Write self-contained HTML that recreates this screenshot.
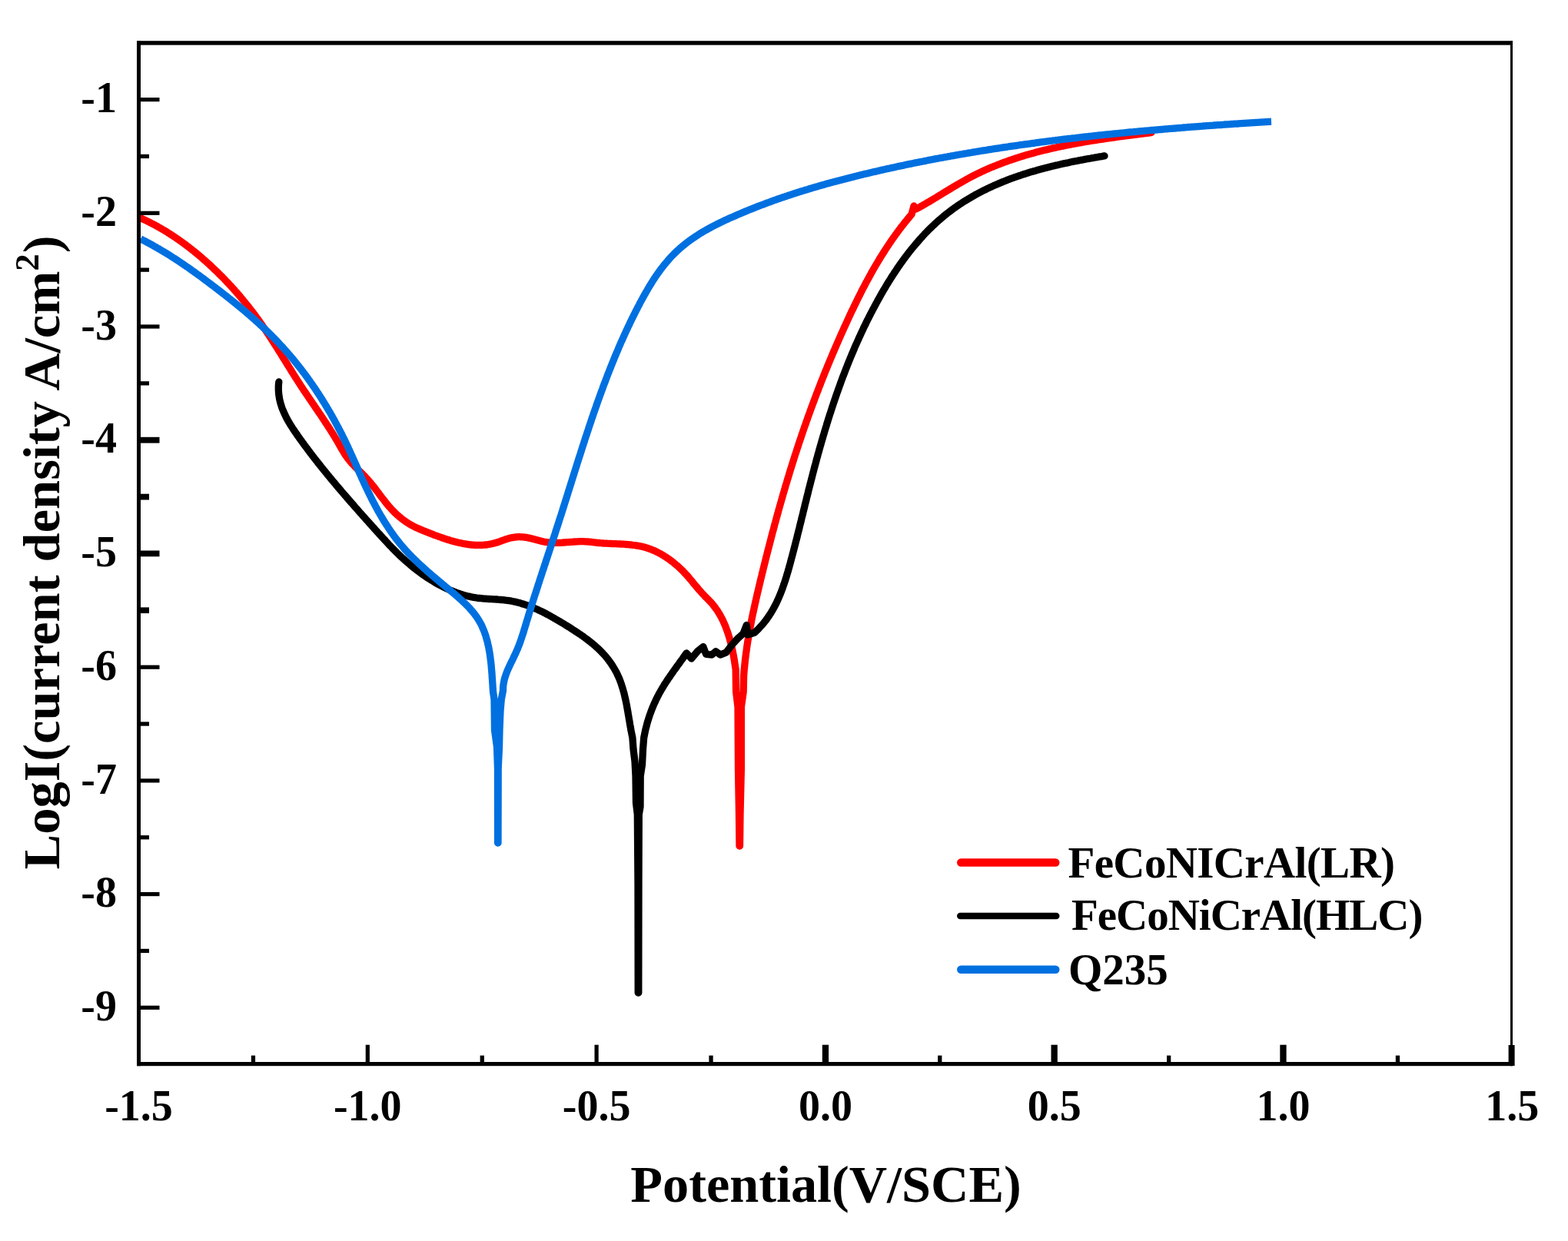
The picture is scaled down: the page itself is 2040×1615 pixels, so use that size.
<!DOCTYPE html>
<html><head><meta charset="utf-8"><title>Polarization curves</title>
<style>
html,body{margin:0;padding:0;background:#fff;}
body{width:2040px;height:1615px;overflow:hidden;}
svg{display:block;}
</style></head>
<body>
<svg width="2040" height="1615" viewBox="0 0 2040 1615">
<rect x="0" y="0" width="2040" height="1615" fill="#fff"/>
<path d="M183.0,283.8L184.8,284.6 186.6,285.5 188.5,286.3 190.3,287.2 192.1,288.1 193.9,288.9 195.6,289.8 197.4,290.8 199.2,291.7 201.0,292.6 202.7,293.6 204.5,294.5 206.2,295.5 208.0,296.5 209.7,297.5 211.4,298.5 213.2,299.5 214.9,300.6 216.6,301.6 218.3,302.7 220.0,303.7 221.7,304.8 223.3,305.9 225.0,307.0 226.7,308.1 228.4,309.2 230.0,310.4 231.7,311.5 233.3,312.6 234.9,313.8 236.6,315.0 238.2,316.1 239.8,317.3 241.4,318.5 243.0,319.7 244.6,320.9 246.2,322.2 247.8,323.4 249.3,324.6 250.9,325.9 252.5,327.1 254.0,328.4 255.6,329.7 257.1,330.9 258.7,332.2 260.2,333.5 261.7,334.8 263.2,336.1 264.7,337.4 266.2,338.8 267.7,340.1 269.2,341.4 270.7,342.8 272.2,344.1 273.7,345.5 275.1,346.8 276.6,348.2 278.0,349.6 279.5,351.0 280.9,352.3 282.4,353.7 283.8,355.1 285.2,356.6 286.6,358.0 288.1,359.4 289.5,360.8 290.9,362.2 292.3,363.7 293.6,365.1 295.0,366.6 296.4,368.0 297.8,369.5 299.1,371.0 300.5,372.4 301.8,373.9 303.2,375.4 304.5,376.9 305.8,378.4 307.2,379.9 308.5,381.4 309.8,382.9 311.1,384.4 312.4,385.9 313.7,387.5 315.0,389.0 316.3,390.6 317.5,392.1 318.8,393.7 320.1,395.2 321.3,396.8 322.6,398.3 323.8,399.9 325.0,401.5 326.3,403.1 327.5,404.7 328.7,406.2 329.9,407.8 331.1,409.4 332.3,411.0 333.5,412.7 334.7,414.3 335.9,415.9 337.0,417.5 338.2,419.2 339.3,420.8 340.5,422.4 341.6,424.1 342.8,425.7 343.9,427.4 345.0,429.0 346.2,430.7 347.3,432.4 348.4,434.0 349.5,435.7 350.6,437.4 351.7,439.0 352.8,440.7 353.9,442.4 354.9,444.1 356.0,445.8 357.1,447.5 358.2,449.1 359.2,450.8 360.3,452.5 361.4,454.2 362.4,455.9 363.5,457.6 364.6,459.3 365.6,461.0 366.7,462.7 367.7,464.4 368.8,466.1 369.9,467.8 370.9,469.5 372.0,471.2 373.0,472.9 374.1,474.6 375.1,476.3 376.2,478.0 377.3,479.7 378.3,481.4 379.4,483.1 380.4,484.8 381.5,486.5 382.6,488.2 383.6,489.9 384.7,491.6 385.8,493.3 386.9,495.0 388.0,496.7 389.0,498.3 390.1,500.0 391.2,501.7 392.3,503.4 393.4,505.0 394.5,506.7 395.6,508.4 396.7,510.0 397.9,511.7 399.0,513.4 400.1,515.0 401.2,516.7 402.3,518.3 403.5,520.0 404.6,521.7 405.7,523.3 406.8,525.0 408.0,526.6 409.1,528.3 410.2,529.9 411.3,531.6 412.5,533.2 413.6,534.9 414.7,536.6 415.8,538.2 417.0,539.9 418.1,541.5 419.2,543.2 420.3,544.9 421.4,546.5 422.5,548.2 423.6,549.9 424.7,551.6 425.8,553.2 426.9,554.9 428.0,556.6 429.1,558.3 430.1,560.0 431.2,561.7 432.3,563.4 433.3,565.1 434.4,566.8 435.4,568.5 436.4,570.2 437.4,571.9 438.5,573.7 439.5,575.4 440.5,577.1 441.5,578.9 442.5,580.6 443.4,582.3 444.4,584.1 445.5,585.8 446.5,587.5 447.5,589.2 448.6,590.9 449.7,592.6 450.8,594.2 452.0,595.9 453.2,597.5 454.5,599.0 455.8,600.6 457.1,602.1 458.4,603.6 459.8,605.0 461.1,606.5 462.5,607.9 464.0,609.3 465.4,610.8 466.8,612.2 468.2,613.6 469.6,615.0 471.1,616.4 472.5,617.8 473.9,619.2 475.3,620.7 476.6,622.1 478.0,623.6 479.3,625.1 480.7,626.6 481.9,628.1 483.2,629.7 484.5,631.2 485.7,632.8 487.0,634.4 488.2,636.0 489.4,637.6 490.6,639.2 491.8,640.8 493.0,642.4 494.2,644.0 495.4,645.6 496.6,647.2 497.9,648.7 499.1,650.3 500.3,651.9 501.5,653.5 502.8,655.1 504.1,656.6 505.3,658.1 506.6,659.7 508.0,661.2 509.3,662.6 510.7,664.1 512.1,665.5 513.5,667.0 514.9,668.3 516.4,669.7 517.9,671.0 519.4,672.3 521.0,673.6 522.5,674.9 524.1,676.1 525.7,677.3 527.4,678.5 529.0,679.6 530.7,680.7 532.4,681.7 534.1,682.8 535.8,683.7 537.6,684.7 539.4,685.6 541.2,686.5 543.0,687.3 544.8,688.1 546.7,688.9 548.5,689.7 550.4,690.4 552.2,691.2 554.1,691.9 556.0,692.7 557.8,693.4 559.7,694.1 561.6,694.8 563.4,695.6 565.3,696.3 567.2,697.0 569.1,697.7 570.9,698.3 572.8,699.0 574.7,699.7 576.6,700.3 578.5,701.0 580.4,701.6 582.3,702.2 584.2,702.8 586.1,703.4 588.1,703.9 590.0,704.5 591.9,705.0 593.9,705.5 595.8,706.0 597.8,706.4 599.7,706.8 601.7,707.2 603.7,707.6 605.6,707.9 607.6,708.3 609.6,708.5 611.6,708.8 613.6,709.0 615.6,709.1 617.6,709.3 619.6,709.4 621.6,709.4 623.6,709.4 625.6,709.4 627.6,709.3 629.6,709.2 631.6,709.0 633.6,708.8 635.5,708.5 637.5,708.2 639.5,707.8 641.4,707.3 643.4,706.9 645.3,706.3 647.2,705.7 649.1,705.1 651.0,704.4 652.9,703.7 654.8,703.0 656.6,702.4 658.5,701.7 660.4,701.1 662.4,700.5 664.3,700.0 666.3,699.6 668.2,699.3 670.2,699.0 672.2,698.8 674.2,698.7 676.2,698.7 678.2,698.8 680.2,698.9 682.2,699.1 684.2,699.4 686.2,699.7 688.1,700.1 690.1,700.5 692.0,701.0 694.0,701.5 695.9,702.0 697.8,702.5 699.8,703.1 701.7,703.6 703.6,704.1 705.6,704.5 707.6,705.0 709.5,705.3 711.5,705.7 713.5,705.9 715.5,706.1 717.5,706.3 719.5,706.4 721.5,706.4 723.5,706.4 725.5,706.4 727.5,706.3 729.5,706.3 731.5,706.2 733.5,706.0 735.5,705.9 737.5,705.7 739.5,705.6 741.5,705.4 743.5,705.3 745.5,705.1 747.5,705.0 749.5,704.9 751.5,704.8 753.5,704.7 755.5,704.6 757.5,704.6 759.5,704.7 761.5,704.8 763.5,704.9 765.5,705.0 767.4,705.2 769.4,705.4 771.4,705.7 773.4,705.9 775.4,706.1 777.4,706.3 779.4,706.5 781.4,706.7 783.4,706.8 785.4,707.0 787.4,707.1 789.4,707.2 791.4,707.3 793.4,707.4 795.4,707.5 797.4,707.6 799.4,707.6 801.4,707.7 803.4,707.8 805.4,707.9 807.4,708.0 809.4,708.1 811.4,708.2 813.4,708.3 815.4,708.5 817.4,708.6 819.4,708.8 821.4,709.0 823.4,709.3 825.3,709.5 827.3,709.8 829.3,710.1 831.3,710.5 833.2,710.9 835.2,711.3 837.1,711.8 839.1,712.3 841.0,712.9 842.9,713.5 844.8,714.1 846.7,714.8 848.5,715.6 850.4,716.3 852.2,717.1 854.0,718.0 855.8,718.9 857.6,719.8 859.4,720.7 861.1,721.7 862.8,722.7 864.5,723.8 866.2,724.9 867.9,726.0 869.5,727.1 871.2,728.3 872.8,729.5 874.4,730.7 876.0,731.9 877.5,733.2 879.0,734.5 880.6,735.8 882.1,737.1 883.5,738.4 885.0,739.8 886.4,741.2 887.9,742.6 889.3,744.0 890.6,745.5 892.0,747.0 893.4,748.4 894.7,749.9 896.0,751.4 897.3,753.0 898.6,754.5 899.9,756.0 901.2,757.6 902.4,759.1 903.7,760.7 905.0,762.2 906.3,763.7 907.6,765.3 908.8,766.8 910.2,768.3 911.5,769.8 912.8,771.3 914.2,772.8 915.5,774.2 916.9,775.7 918.3,777.1 919.7,778.5 921.2,780.0 922.5,781.4 923.9,782.9 925.3,784.3 926.6,785.8 927.9,787.4 929.1,789.0 930.3,790.5 931.5,792.2 932.7,793.8 933.8,795.5 934.8,797.2 935.9,798.9 936.9,800.6 937.9,802.4 938.8,804.1 939.7,805.9 940.6,807.7 941.4,809.5 942.3,811.4 943.0,813.2 943.8,815.0 944.5,816.9 945.2,818.8 945.9,820.7 946.6,822.6 947.2,824.5 947.8,826.4 948.4,828.3 949.0,830.2 949.5,832.1 950.0,834.1 950.6,836.0 951.0,837.9 951.5,839.9 952.0,841.8 952.4,843.8 952.8,845.7 953.2,847.7 953.6,849.7 954.0,851.6 954.4,853.6 954.7,855.6 955.1,857.5 955.4,859.5 955.7,861.5 956.0,863.5 956.3,865.5 956.6,867.4 956.9,869.4 957.2,871.4 957.6,900.0 960.0,920.0 960.5,1000.0 961.5,1060.0 962.0,1101.0 962.5,1101.0 963.0,1060.0 964.4,1000.0 964.4,920.0 967.2,900.0 967.6,880.0 967.7,878.0 967.9,876.0 968.0,874.0 968.2,872.0 968.4,870.0 968.6,868.0 968.8,866.0 969.0,864.0 969.2,862.0 969.4,860.0 969.6,858.0 969.9,856.0 970.1,854.0 970.4,852.1 970.6,850.1 970.9,848.1 971.2,846.1 971.4,844.1 971.7,842.1 972.0,840.1 972.3,838.2 972.6,836.2 972.9,834.2 973.3,832.2 973.6,830.2 973.9,828.3 974.3,826.3 974.6,824.3 974.9,822.3 975.3,820.4 975.7,818.4 976.0,816.4 976.4,814.4 976.8,812.5 977.2,810.5 977.5,808.5 977.9,806.6 978.3,804.6 978.7,802.6 979.1,800.7 979.5,798.7 980.0,796.7 980.4,794.8 980.8,792.8 981.2,790.9 981.7,788.9 982.1,786.9 982.5,785.0 983.0,783.0 983.4,781.1 983.8,779.1 984.3,777.2 984.7,775.2 985.2,773.2 985.6,771.3 986.1,769.3 986.6,767.4 987.0,765.4 987.5,763.5 987.9,761.5 988.4,759.6 988.9,757.6 989.3,755.7 989.8,753.7 990.3,751.8 990.8,749.8 991.2,747.9 991.7,745.9 992.2,744.0 992.7,742.0 993.1,740.1 993.6,738.1 994.1,736.2 994.6,734.2 995.1,732.3 995.6,730.4 996.0,728.4 996.5,726.5 997.0,724.5 997.5,722.6 998.0,720.6 998.5,718.7 999.0,716.7 999.5,714.8 1000.0,712.8 1000.5,710.9 1001.0,709.0 1001.5,707.0 1002.0,705.1 1002.5,703.1 1003.0,701.2 1003.5,699.3 1004.0,697.3 1004.5,695.4 1005.0,693.4 1005.5,691.5 1006.1,689.6 1006.6,687.6 1007.1,685.7 1007.6,683.7 1008.1,681.8 1008.7,679.9 1009.2,677.9 1009.7,676.0 1010.2,674.1 1010.8,672.1 1011.3,670.2 1011.8,668.3 1012.4,666.3 1012.9,664.4 1013.4,662.5 1014.0,660.5 1014.5,658.6 1015.1,656.7 1015.6,654.7 1016.2,652.8 1016.7,650.9 1017.3,649.0 1017.8,647.0 1018.4,645.1 1018.9,643.2 1019.5,641.2 1020.1,639.3 1020.6,637.4 1021.2,635.5 1021.7,633.5 1022.3,631.6 1022.9,629.7 1023.5,627.8 1024.0,625.9 1024.6,623.9 1025.2,622.0 1025.8,620.1 1026.4,618.2 1026.9,616.3 1027.5,614.3 1028.1,612.4 1028.7,610.5 1029.3,608.6 1029.9,606.7 1030.5,604.8 1031.1,602.8 1031.7,600.9 1032.3,599.0 1032.9,597.1 1033.5,595.2 1034.1,593.3 1034.7,591.4 1035.4,589.5 1036.0,587.6 1036.6,585.7 1037.2,583.7 1037.9,581.8 1038.5,579.9 1039.1,578.0 1039.7,576.1 1040.4,574.2 1041.0,572.3 1041.7,570.4 1042.3,568.5 1042.9,566.6 1043.6,564.7 1044.2,562.8 1044.9,560.9 1045.5,559.0 1046.2,557.1 1046.8,555.2 1047.5,553.3 1048.2,551.5 1048.8,549.6 1049.5,547.7 1050.2,545.8 1050.8,543.9 1051.5,542.0 1052.2,540.1 1052.9,538.2 1053.6,536.3 1054.2,534.5 1054.9,532.6 1055.6,530.7 1056.3,528.8 1057.0,526.9 1057.7,525.0 1058.4,523.2 1059.1,521.3 1059.8,519.4 1060.5,517.5 1061.2,515.7 1061.9,513.8 1062.6,511.9 1063.4,510.0 1064.1,508.2 1064.8,506.3 1065.5,504.4 1066.3,502.5 1067.0,500.7 1067.7,498.8 1068.4,496.9 1069.2,495.1 1069.9,493.2 1070.7,491.3 1071.4,489.5 1072.1,487.6 1072.9,485.8 1073.6,483.9 1074.4,482.0 1075.2,480.2 1075.9,478.3 1076.7,476.5 1077.4,474.6 1078.2,472.8 1079.0,470.9 1079.7,469.1 1080.5,467.2 1081.3,465.4 1082.1,463.5 1082.8,461.7 1083.6,459.8 1084.4,458.0 1085.2,456.1 1086.0,454.3 1086.8,452.4 1087.6,450.6 1088.4,448.7 1089.2,446.9 1090.0,445.1 1090.8,443.2 1091.6,441.4 1092.4,439.6 1093.2,437.7 1094.0,435.9 1094.8,434.1 1095.7,432.2 1096.5,430.4 1097.3,428.6 1098.1,426.7 1099.0,424.9 1099.8,423.1 1100.6,421.3 1101.5,419.4 1102.3,417.6 1103.1,415.8 1104.0,414.0 1104.8,412.2 1105.7,410.3 1106.5,408.5 1107.4,406.7 1108.2,404.9 1109.1,403.1 1110.0,401.3 1110.8,399.5 1111.7,397.7 1112.6,395.9 1113.5,394.1 1114.3,392.3 1115.2,390.5 1116.1,388.7 1117.0,386.9 1117.9,385.1 1118.8,383.3 1119.7,381.5 1120.6,379.7 1121.5,377.9 1122.4,376.1 1123.4,374.3 1124.3,372.6 1125.2,370.8 1126.2,369.0 1127.1,367.2 1128.1,365.5 1129.0,363.7 1130.0,361.9 1130.9,360.2 1131.9,358.4 1132.9,356.7 1133.8,354.9 1134.8,353.2 1135.8,351.4 1136.8,349.7 1137.8,348.0 1138.8,346.2 1139.8,344.5 1140.9,342.8 1141.9,341.0 1142.9,339.3 1143.9,337.6 1145.0,335.9 1146.0,334.2 1147.1,332.5 1148.2,330.8 1149.2,329.1 1150.3,327.4 1151.4,325.7 1152.5,324.0 1153.6,322.3 1154.7,320.7 1155.8,319.0 1156.9,317.3 1158.0,315.7 1159.2,314.0 1160.3,312.3 1161.4,310.7 1162.6,309.1 1163.8,307.4 1164.9,305.8 1166.1,304.2 1167.3,302.6 1168.5,300.9 1169.7,299.3 1170.9,297.7 1172.1,296.1 1173.3,294.5 1174.6,293.0 1175.8,291.4 1177.0,289.8 1178.3,288.2 1179.6,286.7 1180.8,285.1 1182.1,283.6 1183.4,282.1 1184.7,280.5 1186.0,279.0 1189.0,268.0 1192.0,272.0 1193.8,271.0 1195.5,270.1 1197.3,269.1 1199.0,268.1 1200.8,267.1 1202.5,266.1 1204.3,265.1 1206.0,264.1 1207.7,263.1 1209.5,262.1 1211.2,261.0 1212.9,260.0 1214.6,259.0 1216.4,257.9 1218.1,256.9 1219.8,255.8 1221.5,254.8 1223.2,253.7 1225.0,252.7 1226.7,251.6 1228.4,250.6 1230.1,249.5 1231.8,248.5 1233.5,247.4 1235.2,246.4 1237.0,245.4 1238.7,244.3 1240.4,243.3 1242.1,242.3 1243.9,241.2 1245.6,240.2 1247.3,239.2 1249.1,238.2 1250.8,237.2 1252.6,236.2 1254.3,235.2 1256.1,234.2 1257.8,233.2 1259.6,232.3 1261.4,231.3 1263.1,230.4 1264.9,229.4 1266.7,228.5 1268.5,227.6 1270.3,226.7 1272.1,225.8 1273.9,225.0 1275.7,224.1 1277.5,223.2 1279.4,222.4 1281.2,221.6 1283.0,220.7 1284.9,219.9 1286.7,219.1 1288.6,218.3 1290.4,217.5 1292.3,216.8 1294.1,216.0 1296.0,215.3 1297.9,214.5 1299.7,213.8 1301.6,213.1 1303.5,212.3 1305.4,211.6 1307.3,210.9 1309.1,210.3 1311.0,209.6 1312.9,208.9 1314.8,208.3 1316.7,207.6 1318.6,207.0 1320.6,206.3 1322.5,205.7 1324.4,205.1 1326.3,204.5 1328.2,203.9 1330.1,203.3 1332.1,202.7 1334.0,202.1 1335.9,201.6 1337.8,201.0 1339.8,200.5 1341.7,199.9 1343.6,199.4 1345.6,198.9 1347.5,198.3 1349.5,197.8 1351.4,197.3 1353.4,196.8 1355.3,196.3 1357.3,195.8 1359.2,195.3 1361.2,194.9 1363.1,194.4 1365.1,193.9 1367.0,193.5 1369.0,193.0 1371.0,192.6 1372.9,192.2 1374.9,191.7 1376.9,191.3 1378.8,190.9 1380.8,190.5 1382.8,190.1 1384.7,189.7 1386.7,189.3 1388.7,188.9 1390.6,188.5 1392.6,188.1 1394.6,187.7 1396.6,187.4 1398.5,187.0 1400.5,186.6 1402.5,186.3 1404.5,185.9 1406.5,185.6 1408.4,185.2 1410.4,184.9 1412.4,184.5 1414.4,184.2 1416.4,183.9 1418.3,183.5 1420.3,183.2 1422.3,182.9 1424.3,182.6 1426.3,182.3 1428.3,182.0 1430.3,181.7 1432.3,181.4 1434.2,181.1 1436.2,180.8 1438.2,180.5 1440.2,180.2 1442.2,179.9 1444.2,179.6 1446.2,179.3 1448.2,179.0 1450.2,178.8 1452.1,178.5 1454.1,178.2 1456.1,177.9 1458.1,177.7 1460.1,177.4 1462.1,177.1 1464.1,176.9 1466.1,176.6 1468.1,176.3 1470.1,176.1 1472.1,175.8 1474.1,175.6 1476.1,175.3 1478.1,175.0 1480.1,174.8 1482.0,174.5 1484.0,174.3 1486.0,174.0 1488.0,173.8 1490.0,173.5 1492.0,173.3 1494.0,173.0 1496.0,172.8 1498.0,172.5" fill="none" stroke="#ff0000" stroke-width="9.3" stroke-linejoin="round" stroke-linecap="round"/>
<path d="M362.8,497.0L362.6,499.0 362.4,501.0 362.3,503.0 362.3,505.0 362.3,507.0 362.4,509.0 362.5,511.0 362.7,513.0 363.0,515.0 363.3,517.0 363.6,518.9 364.0,520.9 364.5,522.8 365.0,524.8 365.6,526.7 366.2,528.6 366.8,530.5 367.5,532.4 368.3,534.2 369.1,536.1 369.9,537.9 370.7,539.7 371.6,541.5 372.5,543.3 373.4,545.1 374.4,546.9 375.4,548.6 376.4,550.3 377.4,552.1 378.5,553.8 379.6,555.5 380.6,557.1 381.7,558.8 382.9,560.5 384.0,562.1 385.1,563.8 386.3,565.4 387.4,567.1 388.6,568.7 389.7,570.3 390.9,572.0 392.1,573.6 393.2,575.2 394.4,576.8 395.6,578.5 396.8,580.1 398.0,581.7 399.2,583.3 400.4,584.9 401.6,586.5 402.8,588.1 404.0,589.7 405.2,591.3 406.4,592.9 407.7,594.5 408.9,596.1 410.1,597.6 411.4,599.2 412.6,600.8 413.8,602.4 415.1,603.9 416.3,605.5 417.6,607.1 418.8,608.6 420.1,610.2 421.3,611.8 422.6,613.3 423.9,614.9 425.1,616.4 426.4,618.0 427.7,619.5 429.0,621.1 430.2,622.6 431.5,624.1 432.8,625.7 434.1,627.2 435.4,628.8 436.7,630.3 437.9,631.8 439.2,633.4 440.5,634.9 441.8,636.4 443.1,637.9 444.4,639.5 445.7,641.0 447.0,642.5 448.3,644.0 449.7,645.5 451.0,647.1 452.3,648.6 453.6,650.1 454.9,651.6 456.2,653.1 457.5,654.6 458.9,656.1 460.2,657.6 461.5,659.2 462.8,660.7 464.1,662.2 465.5,663.7 466.8,665.2 468.1,666.7 469.4,668.2 470.8,669.7 472.1,671.2 473.4,672.7 474.8,674.2 476.1,675.7 477.4,677.2 478.8,678.7 480.1,680.1 481.4,681.6 482.8,683.1 484.1,684.6 485.5,686.1 486.8,687.6 488.1,689.1 489.5,690.6 490.8,692.1 492.2,693.6 493.5,695.0 494.9,696.5 496.2,698.0 497.6,699.5 498.9,701.0 500.3,702.4 501.6,703.9 503.0,705.4 504.4,706.9 505.7,708.3 507.1,709.8 508.5,711.2 509.9,712.7 511.3,714.1 512.7,715.5 514.1,717.0 515.5,718.4 516.9,719.8 518.4,721.2 519.8,722.6 521.3,724.0 522.7,725.3 524.2,726.7 525.7,728.0 527.2,729.4 528.7,730.7 530.2,732.0 531.7,733.3 533.2,734.6 534.7,735.9 536.3,737.2 537.8,738.5 539.4,739.7 541.0,741.0 542.6,742.2 544.2,743.4 545.8,744.6 547.4,745.8 549.0,747.0 550.6,748.1 552.3,749.3 553.9,750.4 555.6,751.5 557.3,752.6 559.0,753.7 560.7,754.8 562.4,755.8 564.1,756.8 565.8,757.9 567.5,758.9 569.3,759.9 571.0,760.8 572.8,761.8 574.6,762.7 576.4,763.6 578.2,764.5 580.0,765.4 581.8,766.2 583.6,767.1 585.4,767.9 587.3,768.7 589.1,769.4 591.0,770.2 592.9,770.9 594.7,771.6 596.6,772.2 598.5,772.9 600.4,773.5 602.4,774.1 604.3,774.7 606.2,775.2 608.2,775.7 610.1,776.1 612.1,776.6 614.0,777.0 616.0,777.4 618.0,777.7 619.9,778.0 621.9,778.3 623.9,778.5 625.9,778.7 627.9,778.9 629.9,779.1 631.9,779.2 633.9,779.4 635.9,779.5 637.9,779.6 639.9,779.7 641.9,779.8 643.9,779.9 645.9,780.0 647.9,780.2 649.9,780.3 651.9,780.5 653.9,780.6 655.9,780.8 657.9,781.1 659.9,781.3 661.9,781.6 663.8,781.9 665.8,782.3 667.8,782.7 669.7,783.1 671.7,783.6 673.6,784.0 675.6,784.6 677.5,785.1 679.4,785.7 681.3,786.3 683.2,786.9 685.1,787.5 687.0,788.2 688.9,788.9 690.8,789.6 692.6,790.4 694.5,791.1 696.3,791.9 698.2,792.7 700.0,793.6 701.8,794.4 703.6,795.3 705.4,796.1 707.2,797.0 709.0,797.9 710.8,798.9 712.5,799.8 714.3,800.7 716.1,801.7 717.8,802.7 719.6,803.7 721.3,804.7 723.0,805.7 724.8,806.7 726.5,807.7 728.2,808.7 729.9,809.8 731.6,810.8 733.4,811.8 735.1,812.9 736.8,813.9 738.5,815.0 740.2,816.1 741.9,817.1 743.5,818.2 745.2,819.3 746.9,820.4 748.6,821.5 750.3,822.6 751.9,823.7 753.6,824.8 755.3,825.9 756.9,827.1 758.6,828.2 760.2,829.4 761.8,830.6 763.4,831.8 765.0,833.0 766.6,834.2 768.2,835.4 769.7,836.7 771.3,837.9 772.8,839.2 774.3,840.6 775.8,841.9 777.3,843.2 778.8,844.6 780.2,846.0 781.6,847.4 783.0,848.9 784.4,850.3 785.8,851.8 787.1,853.3 788.4,854.8 789.7,856.4 790.9,857.9 792.1,859.5 793.3,861.1 794.5,862.8 795.6,864.4 796.7,866.1 797.8,867.8 798.8,869.5 799.8,871.2 800.8,873.0 801.8,874.7 802.7,876.5 803.5,878.3 804.4,880.2 805.2,882.0 806.0,883.8 806.7,885.7 807.4,887.6 808.1,889.5 808.7,891.4 809.3,893.3 809.9,895.2 810.5,897.1 811.0,899.0 811.6,901.0 812.1,902.9 812.5,904.9 813.0,906.8 813.4,908.8 813.9,910.7 814.3,912.7 814.7,914.6 815.1,916.6 815.5,918.6 815.8,920.6 816.2,922.5 816.5,924.5 816.9,926.5 817.2,928.4 817.5,930.4 817.9,932.4 818.2,934.4 818.5,936.4 818.9,938.3 819.2,940.3 819.5,942.3 819.9,944.3 820.2,946.2 820.6,948.2 820.9,950.2 821.3,952.1 821.7,954.1 822.1,956.1 822.5,958.0 822.9,960.0 824.0,975.0 826.0,991.0 827.0,1010.0 827.5,1045.0 829.3,1060.0 830.0,1150.0 830.2,1292.0 830.8,1292.0 831.0,1150.0 831.3,1060.0 833.0,1050.0 833.2,1010.0 835.5,995.0 836.5,975.0 837.7,960.0 838.1,958.0 838.5,956.1 838.9,954.1 839.3,952.1 839.7,950.2 840.2,948.2 840.7,946.3 841.2,944.3 841.7,942.4 842.2,940.4 842.8,938.5 843.4,936.6 844.0,934.7 844.6,932.8 845.2,930.9 845.9,929.0 846.6,927.1 847.3,925.2 848.0,923.3 848.7,921.5 849.5,919.6 850.3,917.7 851.1,915.9 851.9,914.1 852.8,912.3 853.6,910.4 854.5,908.6 855.4,906.8 856.3,905.1 857.2,903.3 858.2,901.5 859.2,899.8 860.2,898.0 861.2,896.3 862.2,894.6 863.3,892.8 864.3,891.1 865.4,889.4 866.5,887.8 867.6,886.1 868.7,884.4 869.8,882.7 871.0,881.1 872.1,879.4 873.2,877.8 874.4,876.1 875.6,874.5 876.7,872.8 877.9,871.2 879.1,869.6 880.2,868.0 881.4,866.3 882.6,864.7 883.8,863.1 884.9,861.4 886.1,859.8 887.3,858.2 888.5,856.6 889.6,854.9 890.8,853.3 891.9,851.6 893.1,850.0 899.6,857.0 907.4,847.7 914.9,841.7 918.6,851.4 926.0,852.1 931.2,847.7 937.1,852.1 944.6,849.2 952.0,839.5 959.4,831.3 966.9,824.6 971.3,813.5 972.8,826.0 981.7,823.2 983.2,821.9 984.6,820.5 986.1,819.1 987.5,817.6 988.8,816.2 990.2,814.7 991.5,813.2 992.8,811.7 994.1,810.1 995.3,808.6 996.6,807.0 997.7,805.4 998.9,803.8 1000.0,802.1 1001.1,800.4 1002.2,798.8 1003.3,797.1 1004.3,795.3 1005.3,793.6 1006.3,791.9 1007.3,790.1 1008.2,788.3 1009.1,786.6 1010.0,784.8 1010.9,783.0 1011.7,781.1 1012.5,779.3 1013.4,777.5 1014.1,775.6 1014.9,773.8 1015.7,771.9 1016.4,770.1 1017.1,768.2 1017.8,766.3 1018.5,764.4 1019.1,762.6 1019.8,760.7 1020.4,758.8 1021.1,756.9 1021.7,755.0 1022.3,753.1 1022.9,751.1 1023.5,749.2 1024.0,747.3 1024.6,745.4 1025.2,743.5 1025.7,741.5 1026.3,739.6 1026.8,737.7 1027.3,735.8 1027.9,733.8 1028.4,731.9 1028.9,730.0 1029.4,728.0 1029.9,726.1 1030.5,724.2 1031.0,722.2 1031.5,720.3 1032.0,718.4 1032.5,716.4 1033.0,714.5 1033.5,712.5 1034.0,710.6 1034.5,708.7 1035.0,706.7 1035.5,704.8 1036.0,702.8 1036.5,700.9 1037.0,699.0 1037.4,697.0 1037.9,695.1 1038.4,693.1 1038.9,691.2 1039.4,689.3 1039.9,687.3 1040.3,685.4 1040.8,683.4 1041.3,681.5 1041.8,679.5 1042.3,677.6 1042.7,675.7 1043.2,673.7 1043.7,671.8 1044.2,669.8 1044.7,667.9 1045.1,665.9 1045.6,664.0 1046.1,662.0 1046.6,660.1 1047.0,658.2 1047.5,656.2 1048.0,654.3 1048.5,652.3 1049.0,650.4 1049.4,648.4 1049.9,646.5 1050.4,644.6 1050.9,642.6 1051.4,640.7 1051.8,638.7 1052.3,636.8 1052.8,634.8 1053.3,632.9 1053.8,631.0 1054.3,629.0 1054.8,627.1 1055.3,625.1 1055.8,623.2 1056.3,621.3 1056.8,619.3 1057.3,617.4 1057.8,615.4 1058.3,613.5 1058.8,611.6 1059.3,609.6 1059.8,607.7 1060.3,605.8 1060.9,603.8 1061.4,601.9 1061.9,600.0 1062.4,598.0 1062.9,596.1 1063.5,594.2 1064.0,592.2 1064.5,590.3 1065.1,588.4 1065.6,586.5 1066.1,584.5 1066.7,582.6 1067.2,580.7 1067.8,578.8 1068.3,576.8 1068.9,574.9 1069.4,573.0 1070.0,571.1 1070.6,569.1 1071.1,567.2 1071.7,565.3 1072.3,563.4 1072.8,561.5 1073.4,559.5 1074.0,557.6 1074.6,555.7 1075.2,553.8 1075.7,551.9 1076.3,550.0 1076.9,548.1 1077.5,546.1 1078.1,544.2 1078.7,542.3 1079.3,540.4 1079.9,538.5 1080.6,536.6 1081.2,534.7 1081.8,532.8 1082.4,530.9 1083.0,529.0 1083.7,527.1 1084.3,525.2 1084.9,523.3 1085.6,521.4 1086.2,519.5 1086.9,517.6 1087.5,515.7 1088.2,513.8 1088.8,511.9 1089.5,510.1 1090.2,508.2 1090.8,506.3 1091.5,504.4 1092.2,502.5 1092.9,500.6 1093.6,498.7 1094.2,496.9 1094.9,495.0 1095.6,493.1 1096.3,491.2 1097.0,489.4 1097.8,487.5 1098.5,485.6 1099.2,483.8 1099.9,481.9 1100.6,480.0 1101.4,478.2 1102.1,476.3 1102.8,474.4 1103.6,472.6 1104.3,470.7 1105.1,468.9 1105.8,467.0 1106.6,465.2 1107.4,463.3 1108.1,461.5 1108.9,459.6 1109.7,457.8 1110.5,455.9 1111.3,454.1 1112.0,452.2 1112.8,450.4 1113.6,448.6 1114.5,446.7 1115.3,444.9 1116.1,443.1 1116.9,441.3 1117.7,439.4 1118.6,437.6 1119.4,435.8 1120.2,434.0 1121.1,432.2 1121.9,430.4 1122.8,428.5 1123.6,426.7 1124.5,424.9 1125.4,423.1 1126.3,421.3 1127.1,419.5 1128.0,417.7 1128.9,415.9 1129.8,414.2 1130.7,412.4 1131.6,410.6 1132.5,408.8 1133.4,407.0 1134.4,405.2 1135.3,403.5 1136.2,401.7 1137.2,399.9 1138.1,398.2 1139.1,396.4 1140.0,394.6 1141.0,392.9 1141.9,391.1 1142.9,389.4 1143.9,387.6 1144.9,385.9 1145.8,384.1 1146.8,382.4 1147.8,380.7 1148.8,378.9 1149.8,377.2 1150.9,375.5 1151.9,373.8 1152.9,372.0 1153.9,370.3 1155.0,368.6 1156.0,366.9 1157.1,365.2 1158.2,363.5 1159.2,361.8 1160.3,360.1 1161.4,358.4 1162.5,356.8 1163.6,355.1 1164.7,353.4 1165.8,351.8 1166.9,350.1 1168.0,348.4 1169.2,346.8 1170.3,345.1 1171.4,343.5 1172.6,341.9 1173.8,340.2 1174.9,338.6 1176.1,337.0 1177.3,335.4 1178.5,333.8 1179.7,332.2 1180.9,330.6 1182.1,329.0 1183.4,327.4 1184.6,325.9 1185.9,324.3 1187.1,322.7 1188.4,321.2 1189.7,319.7 1191.0,318.1 1192.3,316.6 1193.6,315.1 1194.9,313.6 1196.2,312.1 1197.5,310.6 1198.9,309.1 1200.2,307.6 1201.6,306.1 1202.9,304.7 1204.3,303.2 1205.7,301.8 1207.1,300.4 1208.5,298.9 1209.9,297.5 1211.4,296.1 1212.8,294.7 1214.3,293.3 1215.7,292.0 1217.2,290.6 1218.7,289.3 1220.1,287.9 1221.6,286.6 1223.2,285.3 1224.7,284.0 1226.2,282.7 1227.7,281.4 1229.3,280.1 1230.8,278.9 1232.4,277.6 1234.0,276.4 1235.6,275.2 1237.2,274.0 1238.8,272.8 1240.4,271.6 1242.0,270.4 1243.7,269.3 1245.3,268.1 1247.0,267.0 1248.6,265.9 1250.3,264.8 1252.0,263.7 1253.7,262.6 1255.4,261.6 1257.1,260.5 1258.8,259.5 1260.5,258.4 1262.2,257.4 1263.9,256.4 1265.7,255.4 1267.4,254.4 1269.2,253.4 1270.9,252.5 1272.7,251.5 1274.4,250.6 1276.2,249.7 1278.0,248.7 1279.8,247.8 1281.6,247.0 1283.4,246.1 1285.2,245.2 1287.0,244.3 1288.8,243.5 1290.6,242.7 1292.4,241.8 1294.3,241.0 1296.1,240.2 1297.9,239.4 1299.8,238.6 1301.6,237.9 1303.5,237.1 1305.3,236.3 1307.2,235.6 1309.1,234.9 1310.9,234.1 1312.8,233.4 1314.7,232.7 1316.5,232.0 1318.4,231.4 1320.3,230.7 1322.2,230.0 1324.1,229.4 1326.0,228.7 1327.9,228.1 1329.8,227.4 1331.7,226.8 1333.6,226.2 1335.5,225.6 1337.4,225.0 1339.3,224.4 1341.2,223.8 1343.2,223.3 1345.1,222.7 1347.0,222.2 1348.9,221.6 1350.9,221.1 1352.8,220.5 1354.7,220.0 1356.7,219.5 1358.6,219.0 1360.5,218.5 1362.5,218.0 1364.4,217.5 1366.3,217.0 1368.3,216.5 1370.2,216.0 1372.2,215.6 1374.1,215.1 1376.1,214.7 1378.0,214.2 1380.0,213.8 1381.9,213.3 1383.9,212.9 1385.8,212.5 1387.8,212.1 1389.8,211.7 1391.7,211.2 1393.7,210.8 1395.6,210.4 1397.6,210.0 1399.6,209.6 1401.5,209.3 1403.5,208.9 1405.5,208.5 1407.4,208.1 1409.4,207.8 1411.4,207.4 1413.3,207.0 1415.3,206.7 1417.3,206.3 1419.2,206.0 1421.2,205.6 1423.2,205.3 1425.2,204.9 1427.1,204.6 1429.1,204.2 1431.1,203.9 1433.1,203.6 1435.0,203.2 1437.0,202.9" fill="none" stroke="#000" stroke-width="9.3" stroke-linejoin="round" stroke-linecap="round"/>
<path d="M183.0,311.0L184.8,311.9 186.6,312.8 188.4,313.7 190.1,314.6 191.9,315.6 193.7,316.5 195.4,317.5 197.2,318.4 199.0,319.4 200.7,320.4 202.4,321.4 204.2,322.4 205.9,323.4 207.7,324.4 209.4,325.4 211.1,326.4 212.8,327.4 214.5,328.5 216.2,329.5 217.9,330.6 219.6,331.6 221.3,332.7 223.0,333.8 224.7,334.9 226.4,335.9 228.1,337.0 229.8,338.1 231.4,339.2 233.1,340.3 234.8,341.5 236.4,342.6 238.1,343.7 239.7,344.8 241.4,346.0 243.0,347.1 244.7,348.2 246.3,349.4 248.0,350.5 249.6,351.7 251.2,352.9 252.9,354.0 254.5,355.2 256.1,356.4 257.7,357.6 259.4,358.7 261.0,359.9 262.6,361.1 264.2,362.3 265.8,363.5 267.4,364.7 269.0,365.9 270.6,367.1 272.2,368.3 273.8,369.5 275.4,370.7 277.0,371.9 278.6,373.1 280.2,374.3 281.8,375.6 283.4,376.8 285.0,378.0 286.6,379.2 288.2,380.4 289.7,381.7 291.3,382.9 292.9,384.1 294.5,385.4 296.0,386.6 297.6,387.9 299.2,389.1 300.8,390.4 302.3,391.6 303.9,392.9 305.4,394.1 307.0,395.4 308.5,396.6 310.1,397.9 311.6,399.2 313.2,400.5 314.7,401.8 316.3,403.0 317.8,404.3 319.3,405.6 320.9,406.9 322.4,408.2 323.9,409.5 325.4,410.8 326.9,412.2 328.4,413.5 329.9,414.8 331.4,416.1 332.9,417.5 334.4,418.8 335.9,420.2 337.4,421.5 338.8,422.9 340.3,424.2 341.8,425.6 343.2,427.0 344.7,428.3 346.1,429.7 347.6,431.1 349.0,432.5 350.4,433.9 351.9,435.3 353.3,436.7 354.7,438.2 356.1,439.6 357.5,441.0 358.9,442.5 360.3,443.9 361.7,445.4 363.0,446.8 364.4,448.3 365.8,449.8 367.1,451.2 368.5,452.7 369.8,454.2 371.1,455.7 372.5,457.2 373.8,458.7 375.1,460.2 376.4,461.7 377.7,463.3 379.0,464.8 380.3,466.3 381.6,467.9 382.8,469.4 384.1,471.0 385.4,472.5 386.6,474.1 387.9,475.7 389.1,477.2 390.3,478.8 391.6,480.4 392.8,482.0 394.0,483.6 395.2,485.2 396.4,486.8 397.6,488.4 398.8,490.0 400.0,491.6 401.1,493.3 402.3,494.9 403.5,496.5 404.6,498.2 405.8,499.8 406.9,501.5 408.0,503.1 409.2,504.8 410.3,506.4 411.4,508.1 412.5,509.8 413.6,511.4 414.7,513.1 415.8,514.8 416.9,516.5 418.0,518.2 419.0,519.9 420.1,521.6 421.1,523.3 422.2,525.0 423.2,526.7 424.3,528.4 425.3,530.1 426.3,531.8 427.3,533.6 428.4,535.3 429.4,537.0 430.4,538.8 431.4,540.5 432.3,542.2 433.3,544.0 434.3,545.7 435.3,547.5 436.2,549.3 437.2,551.0 438.1,552.8 439.1,554.5 440.0,556.3 440.9,558.1 441.9,559.9 442.8,561.7 443.7,563.4 444.6,565.2 445.5,567.0 446.4,568.8 447.3,570.6 448.2,572.4 449.0,574.2 449.9,576.0 450.8,577.8 451.6,579.6 452.5,581.4 453.3,583.3 454.1,585.1 455.0,586.9 455.8,588.7 456.6,590.6 457.5,592.4 458.3,594.2 459.1,596.0 459.9,597.9 460.7,599.7 461.6,601.5 462.4,603.4 463.2,605.2 464.0,607.0 464.8,608.9 465.6,610.7 466.4,612.5 467.2,614.3 468.0,616.2 468.9,618.0 469.7,619.8 470.5,621.7 471.3,623.5 472.2,625.3 473.0,627.1 473.8,629.0 474.7,630.8 475.5,632.6 476.4,634.4 477.2,636.2 478.1,638.0 479.0,639.8 479.8,641.6 480.7,643.4 481.6,645.2 482.5,647.0 483.4,648.8 484.3,650.6 485.2,652.4 486.1,654.2 487.1,655.9 488.0,657.7 488.9,659.5 489.9,661.2 490.9,663.0 491.8,664.7 492.8,666.5 493.8,668.2 494.8,670.0 495.8,671.7 496.8,673.4 497.9,675.1 498.9,676.9 500.0,678.6 501.0,680.3 502.1,682.0 503.2,683.6 504.3,685.3 505.4,687.0 506.5,688.7 507.6,690.3 508.7,692.0 509.9,693.6 511.1,695.2 512.2,696.9 513.4,698.5 514.6,700.1 515.8,701.7 517.1,703.3 518.3,704.8 519.5,706.4 520.8,708.0 522.1,709.5 523.4,711.0 524.7,712.5 526.0,714.1 527.3,715.6 528.7,717.0 530.0,718.5 531.4,720.0 532.8,721.4 534.2,722.9 535.6,724.3 537.0,725.7 538.4,727.1 539.8,728.5 541.3,729.9 542.7,731.3 544.2,732.7 545.6,734.1 547.1,735.4 548.6,736.8 550.1,738.1 551.5,739.5 553.0,740.8 554.5,742.1 556.0,743.5 557.6,744.8 559.1,746.1 560.6,747.4 562.1,748.7 563.6,750.0 565.2,751.3 566.7,752.6 568.2,753.9 569.8,755.2 571.3,756.5 572.8,757.8 574.4,759.0 575.9,760.3 577.5,761.6 579.0,762.9 580.5,764.2 582.1,765.4 583.6,766.7 585.2,768.0 586.7,769.3 588.2,770.6 589.8,771.8 591.3,773.1 592.8,774.4 594.4,775.7 595.9,777.0 597.4,778.4 598.9,779.7 600.4,781.0 601.8,782.4 603.3,783.8 604.7,785.2 606.2,786.6 607.6,788.0 609.0,789.4 610.4,790.9 611.7,792.4 613.0,793.9 614.3,795.4 615.6,796.9 616.9,798.5 618.1,800.1 619.3,801.7 620.4,803.3 621.5,805.0 622.6,806.7 623.6,808.4 624.6,810.2 625.6,811.9 626.5,813.7 627.3,815.5 628.1,817.4 628.9,819.2 629.7,821.1 630.4,822.9 631.0,824.8 631.7,826.7 632.3,828.6 632.8,830.6 633.4,832.5 633.9,834.4 634.4,836.4 634.8,838.3 635.3,840.3 635.7,842.2 636.1,844.2 636.4,846.2 636.8,848.1 637.1,850.1 637.4,852.1 637.7,854.1 637.9,856.1 638.2,858.1 638.4,860.1 638.7,862.0 638.9,864.0 639.1,866.0 639.3,868.0 639.4,870.0 639.6,872.0 639.8,874.0 639.9,876.0 640.1,878.0 640.2,880.0 640.3,882.0 640.5,884.0 640.6,886.0 640.7,888.0 640.9,890.0 641.0,892.0 641.1,894.0 641.2,896.0 641.4,898.0 641.5,900.0 643.0,910.0 643.5,950.0 646.5,972.0 647.5,1000.0 647.6,1097.0 648.0,1097.0 648.2,1000.0 649.5,972.0 650.0,950.0 651.0,925.0 652.3,910.0 654.5,898.6 654.5,896.6 654.6,894.6 654.7,892.6 655.0,890.6 655.3,888.6 655.7,886.7 656.1,884.7 656.6,882.8 657.2,880.9 657.8,879.0 658.5,877.1 659.2,875.2 659.9,873.3 660.7,871.5 661.5,869.7 662.4,867.8 663.2,866.0 664.1,864.2 664.9,862.4 665.8,860.6 666.7,858.8 667.6,857.0 668.4,855.2 669.3,853.4 670.1,851.6 671.0,849.8 671.8,847.9 672.6,846.1 673.4,844.3 674.1,842.4 674.9,840.6 675.6,838.7 676.3,836.8 677.0,834.9 677.6,833.0 678.3,831.1 678.9,829.2 679.5,827.3 680.2,825.4 680.8,823.5 681.4,821.6 681.9,819.7 682.5,817.8 683.1,815.9 683.7,813.9 684.3,812.0 684.8,810.1 685.4,808.2 686.0,806.3 686.6,804.4 687.2,802.4 687.8,800.5 688.3,798.6 688.9,796.7 689.5,794.8 690.1,792.9 690.7,791.0 691.3,789.1 691.9,787.1 692.5,785.2 693.1,783.3 693.7,781.4 694.3,779.5 694.9,777.6 695.5,775.7 696.1,773.8 696.8,771.9 697.4,770.0 698.0,768.1 698.6,766.2 699.2,764.3 699.8,762.3 700.4,760.4 701.1,758.5 701.7,756.6 702.3,754.7 702.9,752.8 703.5,750.9 704.2,749.0 704.8,747.1 705.4,745.2 706.0,743.3 706.7,741.4 707.3,739.5 707.9,737.6 708.5,735.7 709.2,733.8 709.8,731.9 710.4,730.0 711.0,728.1 711.7,726.2 712.3,724.3 712.9,722.4 713.5,720.5 714.2,718.6 714.8,716.7 715.4,714.8 716.0,712.9 716.7,711.0 717.3,709.1 717.9,707.2 718.5,705.3 719.2,703.4 719.8,701.5 720.4,699.6 721.0,697.7 721.7,695.8 722.3,693.9 722.9,691.9 723.5,690.0 724.1,688.1 724.8,686.2 725.4,684.3 726.0,682.4 726.6,680.5 727.2,678.6 727.8,676.7 728.4,674.8 729.0,672.9 729.7,671.0 730.3,669.1 730.9,667.2 731.5,665.3 732.1,663.4 732.7,661.4 733.3,659.5 733.9,657.6 734.5,655.7 735.1,653.8 735.7,651.9 736.3,650.0 736.9,648.1 737.5,646.2 738.1,644.3 738.7,642.3 739.3,640.4 739.9,638.5 740.5,636.6 741.1,634.7 741.7,632.8 742.3,630.9 742.9,629.0 743.5,627.1 744.1,625.2 744.7,623.2 745.3,621.3 745.9,619.4 746.5,617.5 747.1,615.6 747.7,613.7 748.3,611.8 748.9,609.9 749.5,608.0 750.1,606.1 750.7,604.1 751.3,602.2 751.9,600.3 752.5,598.4 753.1,596.5 753.7,594.6 754.4,592.7 755.0,590.8 755.6,588.9 756.2,587.0 756.8,585.1 757.4,583.2 758.0,581.2 758.6,579.3 759.3,577.4 759.9,575.5 760.5,573.6 761.1,571.7 761.7,569.8 762.3,567.9 763.0,566.0 763.6,564.1 764.2,562.2 764.9,560.3 765.5,558.4 766.1,556.5 766.7,554.6 767.4,552.7 768.0,550.8 768.7,548.9 769.3,547.0 769.9,545.1 770.6,543.2 771.2,541.3 771.9,539.4 772.5,537.5 773.2,535.6 773.8,533.8 774.5,531.9 775.2,530.0 775.8,528.1 776.5,526.2 777.1,524.3 777.8,522.4 778.5,520.5 779.2,518.6 779.8,516.8 780.5,514.9 781.2,513.0 781.9,511.1 782.6,509.2 783.3,507.4 784.0,505.5 784.6,503.6 785.3,501.7 786.0,499.8 786.8,498.0 787.5,496.1 788.2,494.2 788.9,492.4 789.6,490.5 790.3,488.6 791.0,486.7 791.8,484.9 792.5,483.0 793.2,481.2 794.0,479.3 794.7,477.4 795.4,475.6 796.2,473.7 796.9,471.9 797.7,470.0 798.5,468.1 799.2,466.3 800.0,464.4 800.7,462.6 801.5,460.7 802.3,458.9 803.1,457.1 803.9,455.2 804.6,453.4 805.4,451.5 806.2,449.7 807.0,447.9 807.8,446.0 808.6,444.2 809.5,442.4 810.3,440.5 811.1,438.7 811.9,436.9 812.7,435.1 813.6,433.2 814.4,431.4 815.2,429.6 816.1,427.8 816.9,426.0 817.8,424.2 818.7,422.4 819.5,420.5 820.4,418.7 821.3,416.9 822.1,415.1 823.0,413.3 823.9,411.5 824.8,409.8 825.7,408.0 826.6,406.2 827.5,404.4 828.4,402.6 829.3,400.8 830.2,399.0 831.2,397.3 832.1,395.5 833.0,393.7 834.0,392.0 834.9,390.2 835.9,388.4 836.8,386.7 837.8,384.9 838.8,383.2 839.8,381.4 840.8,379.7 841.8,378.0 842.8,376.2 843.8,374.5 844.8,372.8 845.9,371.1 846.9,369.4 848.0,367.7 849.0,366.0 850.1,364.3 851.2,362.6 852.3,361.0 853.4,359.3 854.6,357.6 855.7,356.0 856.9,354.4 858.1,352.7 859.2,351.1 860.4,349.5 861.7,347.9 862.9,346.4 864.1,344.8 865.4,343.2 866.7,341.7 868.0,340.2 869.3,338.6 870.6,337.1 871.9,335.7 873.3,334.2 874.7,332.7 876.1,331.3 877.5,329.9 878.9,328.5 880.3,327.1 881.8,325.7 883.3,324.4 884.8,323.0 886.3,321.7 887.8,320.4 889.4,319.2 890.9,317.9 892.5,316.7 894.1,315.4 895.7,314.2 897.3,313.0 898.9,311.9 900.6,310.7 902.2,309.6 903.9,308.5 905.5,307.4 907.2,306.3 908.9,305.2 910.6,304.1 912.3,303.1 914.0,302.0 915.7,301.0 917.5,300.0 919.2,299.0 921.0,298.1 922.7,297.1 924.5,296.1 926.2,295.2 928.0,294.2 929.8,293.3 931.6,292.4 933.4,291.5 935.2,290.6 936.9,289.7 938.7,288.9 940.6,288.0 942.4,287.1 944.2,286.3 946.0,285.5 947.8,284.6 949.6,283.8 951.5,283.0 953.3,282.2 955.1,281.4 957.0,280.6 958.8,279.8 960.6,279.0 962.5,278.2 964.3,277.4 966.2,276.6 968.0,275.9 969.9,275.1 971.7,274.3 973.6,273.6 975.4,272.8 977.3,272.1 979.2,271.3 981.0,270.6 982.9,269.9 984.7,269.1 986.6,268.4 988.5,267.7 990.3,267.0 992.2,266.3 994.1,265.6 996.0,264.9 997.8,264.2 999.7,263.5 1001.6,262.8 1003.5,262.1 1005.4,261.4 1007.3,260.7 1009.1,260.1 1011.0,259.4 1012.9,258.7 1014.8,258.1 1016.7,257.4 1018.6,256.8 1020.5,256.1 1022.4,255.5 1024.3,254.9 1026.2,254.2 1028.1,253.6 1030.0,253.0 1031.9,252.4 1033.8,251.7 1035.7,251.1 1037.6,250.5 1039.5,249.9 1041.4,249.3 1043.3,248.7 1045.3,248.1 1047.2,247.5 1049.1,246.9 1051.0,246.4 1052.9,245.8 1054.8,245.2 1056.8,244.6 1058.7,244.1 1060.6,243.5 1062.5,242.9 1064.4,242.4 1066.4,241.8 1068.3,241.3 1070.2,240.7 1072.1,240.2 1074.1,239.6 1076.0,239.1 1077.9,238.6 1079.9,238.0 1081.8,237.5 1083.7,237.0 1085.7,236.4 1087.6,235.9 1089.5,235.4 1091.5,234.9 1093.4,234.4 1095.3,233.9 1097.3,233.4 1099.2,232.9 1101.1,232.4 1103.1,231.9 1105.0,231.4 1107.0,230.9 1108.9,230.4 1110.9,229.9 1112.8,229.4 1114.7,229.0 1116.7,228.5 1118.6,228.0 1120.6,227.5 1122.5,227.1 1124.5,226.6 1126.4,226.1 1128.4,225.7 1130.3,225.2 1132.3,224.7 1134.2,224.3 1136.2,223.8 1138.1,223.4 1140.1,222.9 1142.0,222.5 1144.0,222.0 1145.9,221.6 1147.9,221.1 1149.8,220.7 1151.8,220.3 1153.7,219.8 1155.7,219.4 1157.6,219.0 1159.6,218.5 1161.6,218.1 1163.5,217.7 1165.5,217.2 1167.4,216.8 1169.4,216.4 1171.3,216.0 1173.3,215.6 1175.3,215.2 1177.2,214.7 1179.2,214.3 1181.1,213.9 1183.1,213.5 1185.1,213.1 1187.0,212.7 1189.0,212.3 1190.9,211.9 1192.9,211.5 1194.9,211.1 1196.8,210.7 1198.8,210.3 1200.8,210.0 1202.7,209.6 1204.7,209.2 1206.7,208.8 1208.6,208.4 1210.6,208.0 1212.6,207.7 1214.5,207.3 1216.5,206.9 1218.5,206.5 1220.4,206.2 1222.4,205.8 1224.4,205.4 1226.3,205.1 1228.3,204.7 1230.3,204.3 1232.2,204.0 1234.2,203.6 1236.2,203.3 1238.1,202.9 1240.1,202.6 1242.1,202.2 1244.1,201.9 1246.0,201.5 1248.0,201.2 1250.0,200.8 1252.0,200.5 1253.9,200.1 1255.9,199.8 1257.9,199.5 1259.8,199.1 1261.8,198.8 1263.8,198.5 1265.8,198.1 1267.7,197.8 1269.7,197.5 1271.7,197.2 1273.7,196.8 1275.7,196.5 1277.6,196.2 1279.6,195.9 1281.6,195.6 1283.6,195.3 1285.5,194.9 1287.5,194.6 1289.5,194.3 1291.5,194.0 1293.5,193.7 1295.4,193.4 1297.4,193.1 1299.4,192.8 1301.4,192.5 1303.3,192.2 1305.3,191.9 1307.3,191.6 1309.3,191.3 1311.3,191.0 1313.3,190.7 1315.2,190.4 1317.2,190.1 1319.2,189.9 1321.2,189.6 1323.2,189.3 1325.1,189.0 1327.1,188.7 1329.1,188.4 1331.1,188.2 1333.1,187.9 1335.1,187.6 1337.0,187.3 1339.0,187.1 1341.0,186.8 1343.0,186.5 1345.0,186.3 1347.0,186.0 1348.9,185.7 1350.9,185.5 1352.9,185.2 1354.9,184.9 1356.9,184.7 1358.9,184.4 1360.9,184.2 1362.8,183.9 1364.8,183.7 1366.8,183.4 1368.8,183.2 1370.8,182.9 1372.8,182.7 1374.8,182.4 1376.8,182.2 1378.7,181.9 1380.7,181.7 1382.7,181.4 1384.7,181.2 1386.7,181.0 1388.7,180.7 1390.7,180.5 1392.7,180.3 1394.6,180.0 1396.6,179.8 1398.6,179.6 1400.6,179.3 1402.6,179.1 1404.6,178.9 1406.6,178.7 1408.6,178.4 1410.6,178.2 1412.6,178.0 1414.5,177.8 1416.5,177.5 1418.5,177.3 1420.5,177.1 1422.5,176.9 1424.5,176.7 1426.5,176.5 1428.5,176.2 1430.5,176.0 1432.5,175.8 1434.4,175.6 1436.4,175.4 1438.4,175.2 1440.4,175.0 1442.4,174.8 1444.4,174.6 1446.4,174.4 1448.4,174.2 1450.4,174.0 1452.4,173.8 1454.4,173.6 1456.4,173.4 1458.4,173.2 1460.3,173.0 1462.3,172.8 1464.3,172.6 1466.3,172.4 1468.3,172.2 1470.3,172.0 1472.3,171.8 1474.3,171.7 1476.3,171.5 1478.3,171.3 1480.3,171.1 1482.3,170.9 1484.3,170.7 1486.3,170.6 1488.3,170.4 1490.3,170.2 1492.2,170.0 1494.2,169.8 1496.2,169.7 1498.2,169.5 1500.2,169.3 1502.2,169.1 1504.2,169.0 1506.2,168.8 1508.2,168.6 1510.2,168.5 1512.2,168.3 1514.2,168.1 1516.2,167.9 1518.2,167.8 1520.2,167.6 1522.2,167.4 1524.2,167.3 1526.2,167.1 1528.2,167.0 1530.2,166.8 1532.2,166.6 1534.1,166.5 1536.1,166.3 1538.1,166.2 1540.1,166.0 1542.1,165.8 1544.1,165.7 1546.1,165.5 1548.1,165.4 1550.1,165.2 1552.1,165.1 1554.1,164.9 1556.1,164.8 1558.1,164.6 1560.1,164.5 1562.1,164.3 1564.1,164.2 1566.1,164.0 1568.1,163.9 1570.1,163.7 1572.1,163.6 1574.1,163.4 1576.1,163.3 1578.1,163.2 1580.1,163.0 1582.1,162.9 1584.1,162.7 1586.1,162.6 1588.1,162.5 1590.1,162.3 1592.1,162.2 1594.1,162.0 1596.1,161.9 1598.0,161.8 1600.0,161.6 1602.0,161.5 1604.0,161.4 1606.0,161.2 1608.0,161.1 1610.0,161.0 1612.0,160.8 1614.0,160.7 1616.0,160.6 1618.0,160.4 1620.0,160.3 1622.0,160.2 1624.0,160.1 1626.0,159.9 1628.0,159.8 1630.0,159.7 1632.0,159.6 1634.0,159.4 1636.0,159.3 1638.0,159.2 1640.0,159.1 1642.0,158.9 1644.0,158.8 1646.0,158.7 1648.0,158.6 1650.0,158.4 1652.0,158.3 1654.0,158.2" fill="none" stroke="#0070e0" stroke-width="9.3" stroke-linejoin="round" stroke-linecap="butt"/>
<rect x="178" y="53.2" width="5" height="1334" fill="#000"/>
<rect x="178" y="53.2" width="1790" height="5.4" fill="#000"/>
<rect x="1965" y="53.2" width="3" height="1334" fill="#000"/>
<rect x="178" y="1382" width="1790" height="5.2" fill="#000"/>
<rect x="1962.6" y="1360" width="8" height="27" fill="#000"/>
<rect x="183" y="127.0" width="24.5" height="5.2" fill="#000"/>
<rect x="183" y="274.7" width="24.5" height="5.2" fill="#000"/>
<rect x="183" y="422.4" width="24.5" height="5.2" fill="#000"/>
<rect x="183" y="568.8" width="24.5" height="7.8" fill="#000"/>
<rect x="183" y="716.5" width="24.5" height="7.8" fill="#000"/>
<rect x="183" y="865.6" width="24.5" height="5.2" fill="#000"/>
<rect x="183" y="1013.3" width="24.5" height="5.2" fill="#000"/>
<rect x="183" y="1161.0" width="24.5" height="5.2" fill="#000"/>
<rect x="183" y="1308.7" width="24.5" height="5.2" fill="#000"/>
<rect x="183" y="200.8" width="11" height="5.3" fill="#000"/>
<rect x="183" y="348.5" width="11" height="5.3" fill="#000"/>
<rect x="183" y="496.2" width="11" height="5.3" fill="#000"/>
<rect x="183" y="642.7" width="11" height="7.8" fill="#000"/>
<rect x="183" y="790.4" width="11" height="7.7" fill="#000"/>
<rect x="183" y="939.4" width="11" height="5.3" fill="#000"/>
<rect x="183" y="1087.1" width="11" height="5.3" fill="#000"/>
<rect x="183" y="1234.8" width="11" height="5.3" fill="#000"/>
<rect x="475.7" y="1359.7" width="5.2" height="23" fill="#000"/>
<rect x="773.5" y="1359.7" width="5.2" height="23" fill="#000"/>
<rect x="1069.8" y="1359.7" width="8.3" height="23" fill="#000"/>
<rect x="1367.5" y="1359.7" width="8.3" height="23" fill="#000"/>
<rect x="1665.3" y="1359.7" width="8.3" height="23" fill="#000"/>
<rect x="326.8" y="1373.6" width="5.3" height="9" fill="#000"/>
<rect x="624.6" y="1373.6" width="5.3" height="9" fill="#000"/>
<rect x="922.4" y="1373.6" width="5.3" height="9" fill="#000"/>
<rect x="1220.1" y="1373.6" width="5.3" height="9" fill="#000"/>
<rect x="1518.0" y="1373.6" width="5.3" height="9" fill="#000"/>
<rect x="1815.8" y="1373.6" width="5.3" height="9" fill="#000"/>
<text x="152" y="146.2" text-anchor="end" style="font-family:'Liberation Serif','Times New Roman',serif;font-weight:bold;font-size:56px">-1</text>
<text x="152" y="293.9" text-anchor="end" style="font-family:'Liberation Serif','Times New Roman',serif;font-weight:bold;font-size:56px">-2</text>
<text x="152" y="441.6" text-anchor="end" style="font-family:'Liberation Serif','Times New Roman',serif;font-weight:bold;font-size:56px">-3</text>
<text x="152" y="589.3" text-anchor="end" style="font-family:'Liberation Serif','Times New Roman',serif;font-weight:bold;font-size:56px">-4</text>
<text x="152" y="737.0" text-anchor="end" style="font-family:'Liberation Serif','Times New Roman',serif;font-weight:bold;font-size:56px">-5</text>
<text x="152" y="884.8" text-anchor="end" style="font-family:'Liberation Serif','Times New Roman',serif;font-weight:bold;font-size:56px">-6</text>
<text x="152" y="1032.5" text-anchor="end" style="font-family:'Liberation Serif','Times New Roman',serif;font-weight:bold;font-size:56px">-7</text>
<text x="152" y="1180.2" text-anchor="end" style="font-family:'Liberation Serif','Times New Roman',serif;font-weight:bold;font-size:56px">-8</text>
<text x="152" y="1327.9" text-anchor="end" style="font-family:'Liberation Serif','Times New Roman',serif;font-weight:bold;font-size:56px">-9</text>
<text x="180.5" y="1458" text-anchor="middle" style="font-family:'Liberation Serif','Times New Roman',serif;font-weight:bold;font-size:56px">-1.5</text>
<text x="478.3" y="1458" text-anchor="middle" style="font-family:'Liberation Serif','Times New Roman',serif;font-weight:bold;font-size:56px">-1.0</text>
<text x="776.1" y="1458" text-anchor="middle" style="font-family:'Liberation Serif','Times New Roman',serif;font-weight:bold;font-size:56px">-0.5</text>
<text x="1073.9" y="1458" text-anchor="middle" style="font-family:'Liberation Serif','Times New Roman',serif;font-weight:bold;font-size:56px">0.0</text>
<text x="1371.7" y="1458" text-anchor="middle" style="font-family:'Liberation Serif','Times New Roman',serif;font-weight:bold;font-size:56px">0.5</text>
<text x="1669.5" y="1458" text-anchor="middle" style="font-family:'Liberation Serif','Times New Roman',serif;font-weight:bold;font-size:56px">1.0</text>
<text x="1967.3" y="1458" text-anchor="middle" style="font-family:'Liberation Serif','Times New Roman',serif;font-weight:bold;font-size:56px">1.5</text>
<text x="1074.5" y="1564" text-anchor="middle" style="font-family:'Liberation Serif','Times New Roman',serif;font-weight:bold;font-size:68.3px">Potential(V/SCE)</text>
<text transform="translate(77,719) rotate(-90)" text-anchor="middle" style="font-family:'Liberation Serif','Times New Roman',serif;font-weight:bold;font-size:68.5px">LogI(current density A/cm<tspan dy="-27" style="font-size:45px">2</tspan><tspan dy="27" dx="1">)</tspan></text>
<line x1="1250.25" y1="1122.5" x2="1373.25" y2="1122.5" stroke="#ff0000" stroke-width="10.5" stroke-linecap="round"/>
<text x="1389.5" y="1141.8" textLength="425.5" lengthAdjust="spacing" style="font-family:'Liberation Serif','Times New Roman',serif;font-weight:bold;font-size:57px">FeCoNICrAl(LR)</text>
<line x1="1249.25" y1="1192" x2="1374.25" y2="1192" stroke="#000" stroke-width="8.5" stroke-linecap="round"/>
<text x="1394" y="1210" textLength="457.5" lengthAdjust="spacing" style="font-family:'Liberation Serif','Times New Roman',serif;font-weight:bold;font-size:57px">FeCoNiCrAl(HLC)</text>
<line x1="1250.25" y1="1261.7" x2="1373.25" y2="1261.7" stroke="#0070e0" stroke-width="10.5" stroke-linecap="round"/>
<text x="1390" y="1280.5" style="font-family:'Liberation Serif','Times New Roman',serif;font-weight:bold;font-size:57px">Q235</text>
</svg>
</body></html>
